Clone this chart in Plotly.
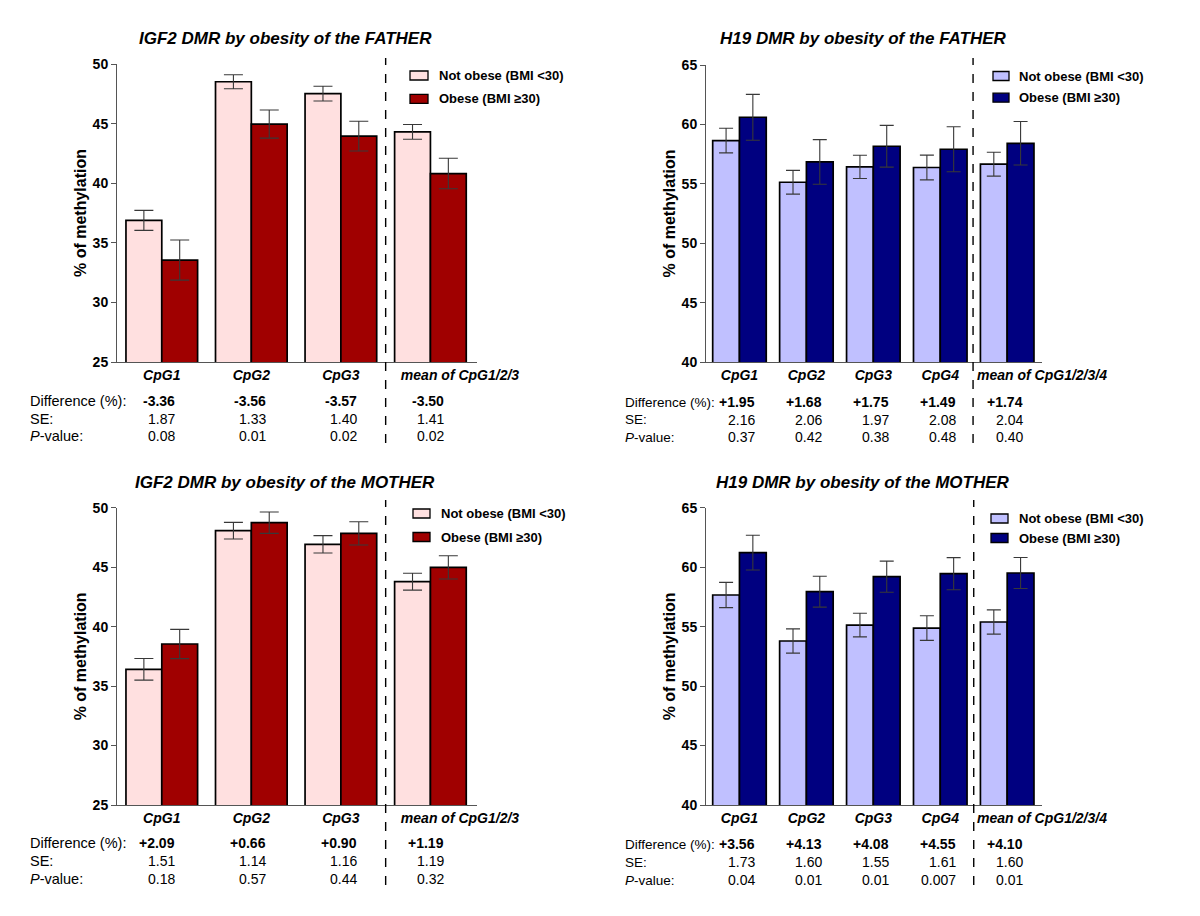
import plotly.graph_objects as go

# ---------------- data ----------------
igf2_cats = ["CpG1", "CpG2", "CpG3", "mean of CpG1/2/3"]
h19_cats = ["CpG1", "CpG2", "CpG3", "CpG4", "mean of CpG1/2/3/4"]

series_names = ["Not obese (BMI <30)", "Obese (BMI \u226530)"]

igf2_father_not = [36.88, 48.51, 47.51, 44.31]
igf2_father_not_se = [0.84, 0.59, 0.62, 0.62]
igf2_father_obese = [33.55, 44.96, 43.95, 40.81]
igf2_father_obese_se = [1.68, 1.18, 1.25, 1.28]

h19_father_not = [58.64, 55.13, 56.42, 56.37, 56.65]
h19_father_not_se = [1.04, 1.00, 0.98, 1.04, 1.00]
h19_father_obese = [60.60, 56.84, 58.16, 57.91, 58.41]
h19_father_obese_se = [1.93, 1.88, 1.76, 1.89, 1.83]

igf2_mother_not = [36.41, 48.07, 46.92, 43.78]
igf2_mother_not_se = [0.91, 0.70, 0.73, 0.71]
igf2_mother_obese = [38.54, 48.74, 47.84, 44.98]
igf2_mother_obese_se = [1.23, 0.90, 0.98, 0.98]

h19_mother_not = [57.66, 53.79, 55.13, 54.88, 55.39]
h19_mother_not_se = [1.06, 1.02, 0.99, 1.04, 1.02]
h19_mother_obese = [61.22, 57.94, 59.20, 59.45, 59.51]
h19_mother_obese_se = [1.46, 1.30, 1.31, 1.35, 1.30]

row_labels = ["Difference (%):", "SE:", "<i>P</i>-value:"]

igf2_father_diff = ["-3.36", "-3.56", "-3.57", "-3.50"]
igf2_father_tse = ["1.87", "1.33", "1.40", "1.41"]
igf2_father_p = ["0.08", "0.01", "0.02", "0.02"]

h19_father_diff = ["+1.95", "+1.68", "+1.75", "+1.49", "+1.74"]
h19_father_tse = ["2.16", "2.06", "1.97", "2.08", "2.04"]
h19_father_p = ["0.37", "0.42", "0.38", "0.48", "0.40"]

igf2_mother_diff = ["+2.09", "+0.66", "+0.90", "+1.19"]
igf2_mother_tse = ["1.51", "1.14", "1.16", "1.19"]
igf2_mother_p = ["0.18", "0.57", "0.44", "0.32"]

h19_mother_diff = ["+3.56", "+4.13", "+4.08", "+4.55", "+4.10"]
h19_mother_tse = ["1.73", "1.60", "1.55", "1.61", "1.60"]
h19_mother_p = ["0.04", "0.01", "0.01", "0.007", "0.01"]

titles = [
    "IGF2 DMR by obesity of the FATHER",
    "H19 DMR by obesity of the FATHER",
    "IGF2 DMR by obesity of the MOTHER",
    "H19 DMR by obesity of the MOTHER",
]

# ---------------- styling ----------------
W, H = 1200, 916
OFF = 8  # page body margin
FONT = "Liberation Sans, Arial, sans-serif"
PINK, DARKRED = "#FFE0E0", "#A00000"
LAVENDER, NAVY = "#C0C0FF", "#000080"
AXIS_COL = "#555555"


def PX(x):
    return (x - OFF) / W


def PY(y):
    return 1 - (y - OFF) / H


panels = [
    dict(cats=igf2_cats, not_v=igf2_father_not, not_e=igf2_father_not_se,
         ob_v=igf2_father_obese, ob_e=igf2_father_obese_se,
         colors=(PINK, DARKRED), yr=[25, 50], xpx=(117, 477), ypx=(64, 362),
         table=(igf2_father_diff, igf2_father_tse, igf2_father_p),
         rows_y=(401, 418.5, 436), lab_x=28, lab_size=14.5, val_size=14,
         cols=[0.17, 1.19, 2.2, 3.17], mean_shift=0.33, cap=9.5,
         dash_x=2.5, dash_y=(58, 443), title_xy=(285, 38),
         leg_box=(410, 428), leg_y=(75.5, 98.8), leg_tx=437),
    dict(cats=h19_cats, not_v=h19_father_not, not_e=h19_father_not_se,
         ob_v=h19_father_obese, ob_e=h19_father_obese_se,
         colors=(LAVENDER, NAVY), yr=[40, 65], xpx=(706, 1042), ypx=(65, 362),
         table=(h19_father_diff, h19_father_tse, h19_father_p),
         rows_y=(402, 419.5, 437), lab_x=623, lab_size=13.5, val_size=14,
         cols=[0.26, 1.26, 2.26, 3.26, 4.27], mean_shift=0.52, cap=7,
         dash_x=3.49, dash_y=(58, 443), title_xy=(863, 38),
         leg_box=(993, 1009), leg_y=(76, 97.7), leg_tx=1017),
    dict(cats=igf2_cats, not_v=igf2_mother_not, not_e=igf2_mother_not_se,
         ob_v=igf2_mother_obese, ob_e=igf2_mother_obese_se,
         colors=(PINK, DARKRED), yr=[25, 50], xpx=(117, 477), ypx=(507.7, 805),
         table=(igf2_mother_diff, igf2_mother_tse, igf2_mother_p),
         rows_y=(843, 861, 879), lab_x=28, lab_size=14.5, val_size=14,
         cols=[0.17, 1.19, 2.2, 3.17], mean_shift=0.33, cap=9.5,
         dash_x=2.5, dash_y=(500, 885), title_xy=(285, 482),
         leg_box=(413, 430), leg_y=(513.5, 537), leg_tx=439),
    dict(cats=h19_cats, not_v=h19_mother_not, not_e=h19_mother_not_se,
         ob_v=h19_mother_obese, ob_e=h19_mother_obese_se,
         colors=(LAVENDER, NAVY), yr=[40, 65], xpx=(706, 1042), ypx=(507.7, 805),
         table=(h19_mother_diff, h19_mother_tse, h19_mother_p),
         rows_y=(844, 862, 880), lab_x=623, lab_size=13.5, val_size=14,
         cols=[0.26, 1.26, 2.26, 3.26, 4.27], mean_shift=0.52, cap=7,
         dash_x=3.5, dash_y=(500, 885), title_xy=(863, 482),
         leg_box=(991, 1008), leg_y=(518.5, 538), leg_tx=1017),
]

fig = go.Figure()
annotations = []
shapes = []
layout_axes = {}

for i, p in enumerate(panels):
    n = i + 1
    sfx = "" if n == 1 else str(n)
    xa, ya = "x" + sfx, "y" + sfx
    ncat = len(p["cats"])
    idx = list(range(ncat))
    vals = [(p["not_v"], p["not_e"]), (p["ob_v"], p["ob_e"])]
    for k in range(2):
        v, e = vals[k]
        fig.add_trace(go.Bar(
            x=idx, y=v, name=series_names[k], xaxis=xa, yaxis=ya,
            marker=dict(color=p["colors"][k], line=dict(color="black", width=1.7)),
            error_y=dict(type="data", array=e, visible=True, color="#383838",
                         thickness=1.1, width=p["cap"]),
            offsetgroup=str(k), showlegend=False,
        ))
    tickpos = idx[:-1] + [idx[-1] + p["mean_shift"]]
    layout_axes["xaxis" + sfx] = dict(
        domain=[PX(p["xpx"][0]), PX(p["xpx"][1])], anchor=ya,
        range=[-0.5, ncat - 0.48], tickmode="array", tickvals=tickpos,
        ticktext=p["cats"], tickangle=0, showline=True, linecolor=AXIS_COL,
        linewidth=1, ticks="", showgrid=False, zeroline=False, automargin=False,
        tickfont=dict(family=FONT, size=14, color="black", weight="bold", style="italic"),
    )
    layout_axes["yaxis" + sfx] = dict(
        domain=[PY(p["ypx"][1]), PY(p["ypx"][0])], anchor=xa,
        range=p["yr"], dtick=5, tick0=0, showline=True, linecolor=AXIS_COL,
        linewidth=1, ticks="outside", ticklen=5, tickcolor=AXIS_COL,
        showgrid=False, zeroline=False, automargin=False,
        tickfont=dict(family=FONT, size=14, color="black", weight="bold"),
        title=dict(text="% of methylation", standoff=2,
                   font=dict(family=FONT, size=16, color="black", weight="bold")),
    )
    # manual legend
    for k in range(2):
        yc = p["leg_y"][k]
        shapes.append(dict(
            type="rect", xref="paper", yref="paper",
            x0=PX(p["leg_box"][0]), x1=PX(p["leg_box"][1]),
            y0=PY(yc + 4.5), y1=PY(yc - 4.5),
            fillcolor=p["colors"][k], line=dict(color="black", width=1.3)))
        annotations.append(dict(
            text="<b>" + series_names[k] + "</b>", xref="paper", yref="paper",
            x=PX(p["leg_tx"]), y=PY(yc), xanchor="left", yanchor="middle",
            showarrow=False, font=dict(family=FONT, size=13, color="black")))
    # title
    annotations.append(dict(
        text="<b><i>" + titles[i] + "</i></b>", xref="paper", yref="paper",
        x=PX(p["title_xy"][0]), y=PY(p["title_xy"][1]), xanchor="center",
        yanchor="middle", showarrow=False,
        font=dict(family=FONT, size=17, color="black")))
    # table
    for r in range(3):
        annotations.append(dict(
            text=row_labels[r], xref="paper", yref="paper",
            x=PX(p["lab_x"]), y=PY(p["rows_y"][r]), xanchor="left",
            yanchor="middle", showarrow=False,
            font=dict(family=FONT, size=p["lab_size"], color="black")))
        for c in range(ncat):
            t = p["table"][r][c]
            if r == 0:
                t = "<b>" + t + "</b>"
            annotations.append(dict(
                text=t, xref=xa, yref="paper", x=p["cols"][c],
                y=PY(p["rows_y"][r]), xanchor="right", yanchor="middle",
                showarrow=False,
                font=dict(family=FONT, size=p["val_size"], color="black")))
    # dashed separator
    shapes.append(dict(
        type="line", xref=xa, yref="paper", x0=p["dash_x"], x1=p["dash_x"],
        y0=PY(p["dash_y"][1]), y1=PY(p["dash_y"][0]),
        line=dict(color="black", width=1.4, dash="dash")))

fig.update_layout(
    width=W, height=H, margin=dict(l=0, r=0, t=0, b=0, autoexpand=False),
    paper_bgcolor="white", plot_bgcolor="white",
    barmode="group", bargap=0.2, bargroupgap=0,
    font=dict(family=FONT, color="black"),
    annotations=annotations, shapes=shapes, showlegend=False,
    **layout_axes,
)

fig.write_html("out.html")
